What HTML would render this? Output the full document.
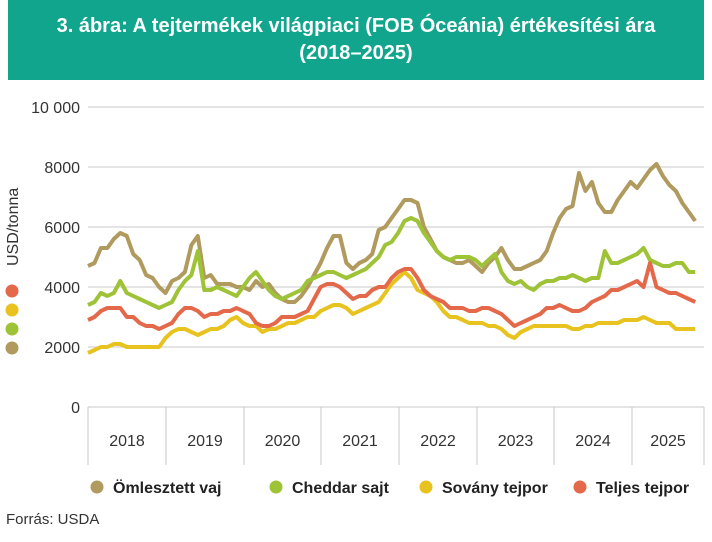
<!DOCTYPE html>
<html><head><meta charset="utf-8"><style>
body{margin:0;width:712px;height:542px;background:#fff;font-family:"Liberation Sans",sans-serif;overflow:hidden}
.hd{position:absolute;left:8px;top:0;width:696px;height:80px;background:#12a58e;color:#fff;font-weight:bold;font-size:20px;text-align:center;line-height:27px;padding-top:13px;box-sizing:border-box}
</style></head><body>
<div class="hd">3. ábra: A tejtermékek világpiaci (FOB Óceánia) értékesítési ára<br>(2018–2025)</div>
<svg id="s" width="712" height="542" style="position:absolute;left:0;top:0" font-family="Liberation Sans, sans-serif"></svg>
<script>
const s=document.getElementById('s');let h='';
const Y=v=>407-v*0.03;
[2000,4000,6000,8000,10000].forEach(v=>{h+=`<line x1="88" x2="704" y1="${Y(v)}" y2="${Y(v)}" stroke="#c8c8c8"/>`;h+=`<text x="80" y="${Y(v)+6}" text-anchor="end" font-size="16" fill="#333">${v==10000?'10 000':v}</text>`});
h+=`<text x="80" y="413" text-anchor="end" font-size="16" fill="#333">0</text>`;
h+=`<line x1="88" x2="704" y1="407" y2="407" stroke="#c8c8c8"/>`;
const xs=[88,166,244,321,399,477,554,632,704];
xs.forEach(x=>h+=`<line x1="${x}" x2="${x}" y1="407" y2="465" stroke="#c8c8c8"/>`);
for(let i=0;i<8;i++)h+=`<text x="${(xs[i]+xs[i+1])/2}" y="446" text-anchor="middle" font-size="16" fill="#333">${2018+i}</text>`;
h+=`<text transform="translate(18,266) rotate(-90)" font-size="16" fill="#333">USD/tonna</text>`;
[['#e4694a',291],['#e8c21e',310],['#9ec337',329],['#b09a5e',348]].forEach(c=>h+=`<circle cx="12" cy="${c[1]}" r="6.5" fill="${c[0]}"/>`);
const D={
b:[4700,4800,5300,5300,5600,5800,5700,5100,4900,4400,4300,4000, 3800,4200,4300,4500,5400,5700,4300,4400,4100,4100,4100,4000, 4000,3900,4200,4000,4100,3800,3600,3500,3500,3700,4000,4400, 4800,5300,5700,5700,4800,4600,4800,4900,5100,5900,6000,6300, 6600,6900,6900,6800,6000,5600,5200,5000,4900,4800,4800,4900, 4700,4500,4800,5000,5300,4900,4600,4600,4700,4800,4900,5200, 5800,6300,6600,6700,7800,7200,7500,6800,6500,6500,6900,7200, 7500,7300,7600,7900,8100,7700,7400,7200,6800,6500,6200],
g:[3400,3500,3800,3700,3800,4200,3800,3700,3600,3500,3400,3300,3400,3500,3900,4200,4400,5200,3900,3900,4000,3900,3800,3700,4000,4300,4500,4200,3900,3700,3600,3700,3800,3900,4200,4300,4400,4500,4500,4400,4300,4400,4500,4600,4800,5000,5400,5500,5800,6200,6300,6200,5800,5500,5200,5000,4900,5000,5000,5000,4900,4700,4900,5100,4500,4200,4100,4200,4000,3900,4100,4200,4200,4300,4300,4400,4300,4200,4300,4300,5200,4800,4800,4900,5000,5100,5300,4900,4800,4700,4700,4800,4800,4500,4500],
y:[1800,1900,2000,2000,2100,2100,2000,2000,2000,2000,2000,2000,2300,2500,2600,2600,2500,2400,2500,2600,2600,2700,2900,3000,2800,2700,2700,2500,2600,2600,2700,2800,2800,2900,3000,3000,3200,3300,3400,3400,3300,3100,3200,3300,3400,3500,3800,4100,4300,4500,4300,3900,3800,3700,3500,3200,3000,3000,2900,2800,2800,2800,2700,2700,2600,2400,2300,2500,2600,2700,2700,2700,2700,2700,2700,2600,2600,2700,2700,2800,2800,2800,2800,2900,2900,2900,3000,2900,2800,2800,2800,2600,2600,2600,2600],
r:[2900,3000,3200,3300,3300,3300,3000,3000,2800,2700,2700,2600,2700,2800,3100,3300,3300,3200,3000,3100,3100,3200,3200,3300,3200,3100,2800,2700,2700,2800,3000,3000,3000,3100,3200,3600,4000,4100,4100,4000,3800,3600,3700,3700,3900,4000,4000,4300,4500,4600,4600,4300,3900,3700,3600,3500,3300,3300,3300,3200,3200,3300,3300,3200,3100,2900,2700,2800,2900,3000,3100,3300,3300,3400,3300,3200,3200,3300,3500,3600,3700,3900,3900,4000,4100,4200,4000,4800,4000,3900,3800,3800,3700,3600,3500]};
const C={b:'#b09a5e',g:'#9ec337',y:'#e8c21e',r:'#e4694a'};
['b','g','y','r'].forEach(k=>{h+=`<polyline fill="none" stroke="${C[k]}" stroke-width="4" stroke-linejoin="round" points="${D[k].map((v,i)=>(88+i*6.46).toFixed(1)+','+Y(v).toFixed(1)).join(' ')}"/>`});
[['#b09a5e',97,'Ömlesztett vaj'],['#9ec337',276,'Cheddar sajt'],['#e8c21e',426,'Sovány tejpor'],['#e4694a',580,'Teljes tejpor']].forEach(l=>{h+=`<circle cx="${l[1]}" cy="487" r="6.5" fill="${l[0]}"/><text x="${l[1]+16}" y="493" font-size="16" font-weight="bold" fill="#222">${l[2]}</text>`});
h+=`<text x="6" y="524" font-size="15" fill="#333">Forrás: USDA</text>`;
s.innerHTML=h;
</script>
</body></html>
